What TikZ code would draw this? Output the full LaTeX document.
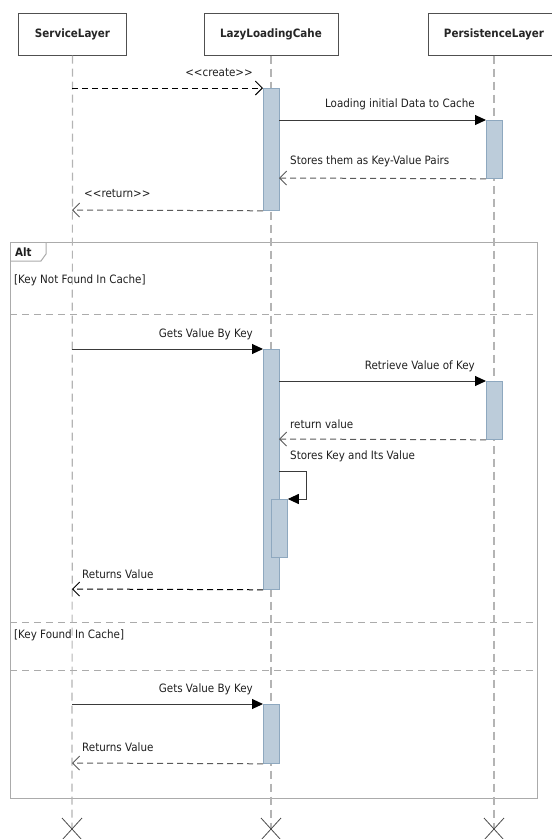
\documentclass[tikz,border=0pt]{standalone}
\usepackage{fontspec}
\setmainfont{DejaVu Sans Condensed}
\usetikzlibrary{arrows.meta}
\definecolor{lifegray}{HTML}{B4B4B4}
\definecolor{framegray}{HTML}{ABABAB}
\definecolor{actfill}{HTML}{BCCCDA}
\definecolor{actdraw}{HTML}{8EA8BF}
\definecolor{msgcol}{HTML}{3A3A3A}
\definecolor{replycol}{HTML}{5A5A5A}
\definecolor{boxcol}{HTML}{505050}
\tikzset{
  x=1pt, y=-1pt,
  headbox/.style={draw=boxcol, line width=1pt, fill=white, minimum height=42pt,
    inner sep=0pt, font=\bfseries\fontsize{11.5}{13}\selectfont, text=black!85},
  lifeline/.style={draw=lifegray, line width=1.2pt, dash pattern=on 8pt off 5pt},
  endmark/.style={draw=black!70, line width=0.8pt},
  actbar/.style={fill=actfill, draw=actdraw, line width=0.8pt, inner sep=0pt,
    minimum width=16pt, anchor=north west},
  call/.style={draw=msgcol, line width=1pt,
    -{Triangle[length=11pt,width=10pt,color=black]}},
  reply/.style={draw=replycol, line width=1pt, dash pattern=on 6pt off 4pt,
    -{Straight Barb[length=7pt,width=14pt,line width=0.9pt]}},
  lbl/.style={inner sep=0pt, font=\fontsize{11.5}{13}\selectfont, text=black!88},
  framebox/.style={draw=framegray, line width=1pt},
  separator/.style={draw=framegray, line width=1pt, dash pattern=on 7pt off 5pt},
}
\begin{document}
\begin{tikzpicture}
\useasboundingbox (0,0) rectangle (552,839);

% combined fragment
\draw[framebox] (10,242) rectangle (537,798);
\draw[framebox] (10,261) -- (41,261) -- (46,254) -- (46,242);
\node[lbl, font=\bfseries\fontsize{11.5}{13}\selectfont, anchor=west] (altlbl) at (15,252) {Alt};
\node[lbl, anchor=west] (g1) at (14,280) {[Key Not Found In Cache]};
\draw[separator] (10,314) -- (537,314);
\draw[separator] (10,622) -- (537,622);
\node[lbl, anchor=west] (g2) at (14,635) {[Key Found In Cache]};
\draw[separator] (10,670) -- (537,670);

% participants
\node[headbox, minimum width=108pt] (sl) at (72.5,34) {ServiceLayer};
\node[headbox, minimum width=134pt] (lc) at (271,34) {LazyLoadingCahe};
\node[headbox, minimum width=132pt] (pl) at (494,34) {PersistenceLayer};

\coordinate (slend) at (72,829);
\coordinate (lcend) at (271,829);
\coordinate (plend) at (494,829);
\draw[lifeline] (sl.south) -- (slend);
\draw[lifeline] (lc.south) -- (lcend);
\draw[lifeline] (pl.south) -- (plend);
\foreach \e in {slend,lcend,plend}{
  \draw[endmark] (\e) +(-10,-11) -- +(10,11);
  \draw[endmark] (\e) +(-10,11) -- +(10,-11);
}

% activation bars
\node[actbar, minimum height=122pt] (a1) at (263,88) {};
\node[actbar, minimum height=58pt] (p1) at (486,120) {};
\node[actbar, minimum height=240pt] (a2) at (263,349) {};
\node[actbar, minimum height=58pt] (p2) at (486,381) {};
\node[actbar, minimum height=58pt] (a3) at (271,499) {};
\node[actbar, minimum height=59pt] (a4) at (263,704) {};

% message end points on lifelines
\coordinate (s1) at (72,88);
\coordinate (s2) at (72,210);
\coordinate (s3) at (72,349);
\coordinate (s4) at (72,589);
\coordinate (s5) at (72,704);
\coordinate (s6) at (72,763);
\coordinate (r1) at (279,120);
\coordinate (r2) at (279,178);
\coordinate (r3) at (279,381);
\coordinate (r4) at (279,439);
\coordinate (loopa) at (279,471);
\coordinate (loopb) at (306,471);
\coordinate (loopc) at (306,499);

% initialisation
\draw[reply, draw=black] (s1) -- (a1.north west);
\node[lbl, anchor=east] at (253,73) {<\kern0pt<create>\kern0pt>};
\draw[call] (r1) -- (p1.north west);
\node[lbl, anchor=east] at (475,104) {Loading initial Data to Cache};
\draw[reply] (p1.south west) -- (r2);
\node[lbl, anchor=west] at (290,161) {Stores them as Key-Value Pairs};
\draw[reply] (a1.south west) -- (s2);
\node[lbl, anchor=west] at (84,194) {<\kern0pt<return>\kern0pt>};

% key not found
\draw[call] (s3) -- (a2.north west);
\node[lbl, anchor=east] at (253,334) {Gets Value By Key};
\draw[call] (r3) -- (p2.north west);
\node[lbl, anchor=east] at (475,366) {Retrieve Value of Key};
\draw[reply] (p2.south west) -- (r4);
\node[lbl, anchor=west] at (290,424) {return value};
\draw[call] (loopa) -- (loopb) -- (loopc) -- (a3.north east);
\node[lbl, anchor=west] at (290,456) {Stores Key and Its Value};
\draw[reply, draw=black] (a2.south west) -- (s4);
\node[lbl, anchor=west] at (82,574) {Returns Value};

% key found
\draw[call] (s5) -- (a4.north west);
\node[lbl, anchor=east] at (253,689) {Gets Value By Key};
\draw[reply] (a4.south west) -- (s6);
\node[lbl, anchor=west] at (82,747) {Returns Value};
\end{tikzpicture}
\end{document}
